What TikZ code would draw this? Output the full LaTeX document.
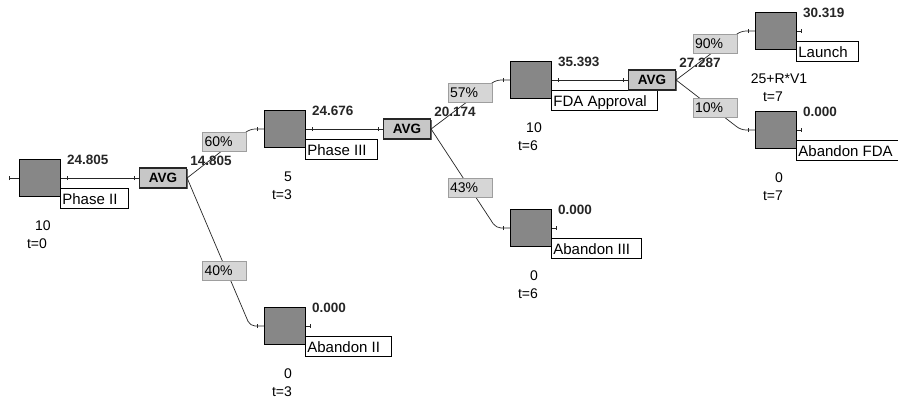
\documentclass[tikz,border=0pt]{standalone}
\usepackage{fontspec}
\setmainfont{Liberation Sans}
\usetikzlibrary{positioning,shadows,arrows.meta,decorations.markings}

\definecolor{nodegray}{gray}{0.53}
\definecolor{avggray}{gray}{0.78}
\definecolor{probgray}{gray}{0.84}
\definecolor{probline}{gray}{0.62}

\begin{document}
\begin{tikzpicture}[
        x=1pt, y=-1pt,
        font=\fontsize{14}{16}\selectfont,
        dec box/.style={draw=black, line width=1pt, fill=nodegray, minimum width=41pt, minimum height=37pt, inner sep=0pt},
        avg box/.style={draw=black!85, line width=1.2pt, fill=avggray, minimum width=47pt, minimum height=20pt, inner sep=0pt,
            font=\fontsize{13.5}{15}\selectfont\bfseries,
            drop shadow={shadow xshift=1.2pt, shadow yshift=-1.2pt, opacity=1, fill=black!60}},
        prob box/.style={draw=probline, fill=probgray, text width=40pt, align=left, inner xsep=2pt, inner ysep=0pt, minimum height=19pt},
        name box/.style={draw=black, fill=white, line width=0.8pt, anchor=north west, inner xsep=2pt, inner ysep=0pt,
            text height=16pt, text depth=3.5pt, font=\fontsize{15}{17}\selectfont, execute at end node=\hspace*{9pt}},
        value/.style={anchor=west, inner sep=0pt, font=\fontsize{13.5}{15}\selectfont\bfseries, text=black!85},
        link/.style={draw=black!85, line width=0.7pt},
        tick mark/.style={line width=0.9pt},
        both ticks/.style={postaction={decorate}, decoration={markings,
            mark=at position 6pt with {\draw[tick mark] (0,-2pt) -- (0,2pt);},
            mark=at position -4pt with {\draw[tick mark] (0,-2pt) -- (0,2pt);}}},
        end tick/.style={postaction={decorate}, decoration={markings,
            mark=at position -7pt with {\draw[tick mark] (0,-2pt) -- (0,2pt);}}},
        stub/.style={link, -{Bar[width=4pt, line width=0.9pt]}},
    ]

    % page
    \path[use as bounding box, fill=white] (0,0) rectangle (898,399);

    % decision nodes with name, value, cash flow and period
    \foreach \sq/\x/\y/\name/\val/\cash/\t in {
        sqA/40/178/Phase II/24.805/10/0,
        sqB/285/129/Phase III/24.676/5/3,
        sqC/285/326/Abandon II/0.000/0/3,
        sqD/531/80/FDA Approval/35.393/10/6,
        sqE/531/228/Abandon III/0.000/0/6,
        sqF/776/31/Launch/30.319/25+R*V1/7,
        sqG/776/130/Abandon FDA/0.000/0/7} {
        \node[dec box] (\sq) at (\x,\y) {};
        \node[name box] at ([xshift=-1pt,yshift=9pt]\sq.south east) {\name};
        \node[value] at ([xshift=6pt,yshift=-1pt]\sq.north east) {\val};
        \node at ([xshift=3pt,yshift=-29pt]\sq.south) {\cash};
        \node at ([xshift=-3pt,yshift=-47pt]\sq.south) {t=\t};
    }

    % chance nodes
    \foreach \avg/\x/\y/\val in {avg1/163/178/14.805, avg2/407/129/20.174, avg3/652/80/27.287} {
        \node[avg box] (\avg) at (\x,\y) {AVG};
        \node[value] at ([xshift=3pt,yshift=7pt]\avg.north east) {\val};
    }

    % stubs
    \draw[stub] (sqA.west) -- ++(-10,0);
    \foreach \sq in {sqC, sqE, sqF, sqG}
        \draw[stub] (\sq.east) -- ++(5,0);

    % node to chance node
    \draw[link, both ticks] (sqA.east) -- (avg1.west);
    \draw[link, both ticks] (sqB.east) -- (avg2.west);
    \draw[link, both ticks] (sqD.east) -- (avg3.west);

    % branches
    \foreach \from/\to in {avg1/sqB, avg1/sqC, avg2/sqD, avg2/sqE, avg3/sqF, avg3/sqG}
        \draw[link, end tick, rounded corners=5pt] (\from.east) -- ([xshift=-14pt]\to.west) -- (\to.west);

    % probabilities
    \foreach \p/\x/\y/\txt in {p60/224.5/141.5/60, p40/224.5/271/40, p57/470/93/57,
        p43/470/188/43, p90/715/44/90, p10/715/107.5/10}
        \node[prob box] (\p) at (\x,\y) {\txt\%};

\end{tikzpicture}
\end{document}
